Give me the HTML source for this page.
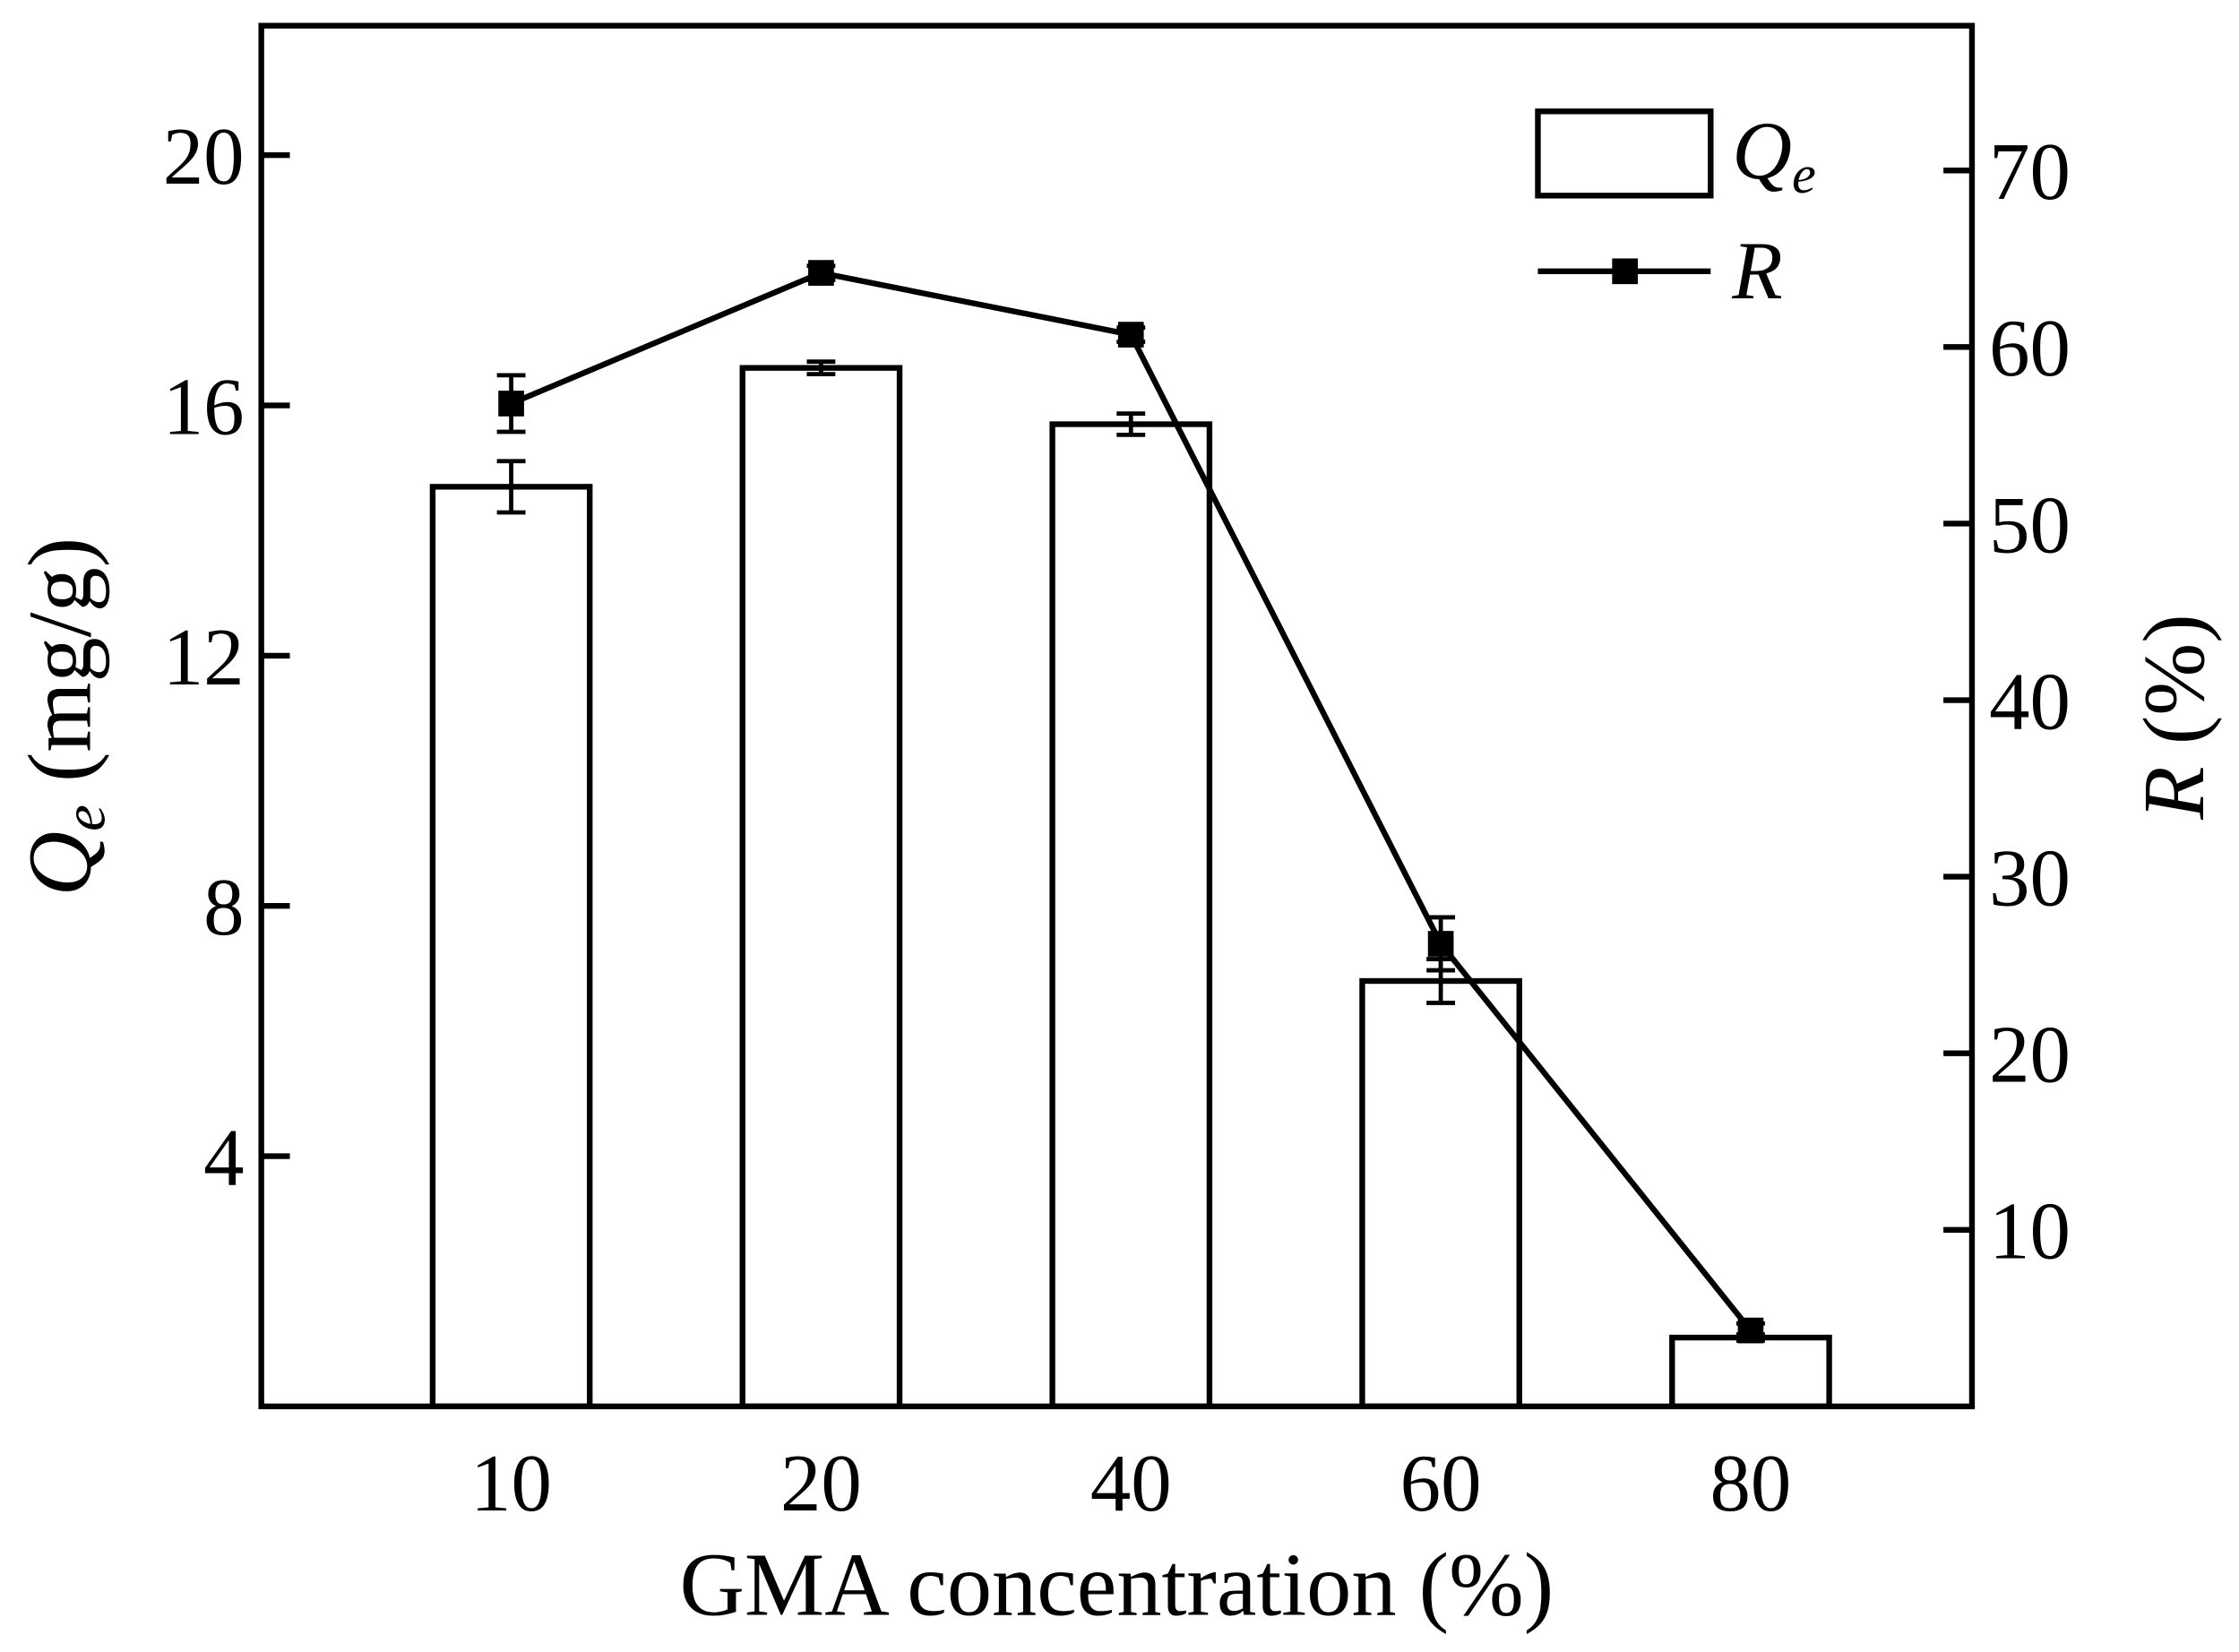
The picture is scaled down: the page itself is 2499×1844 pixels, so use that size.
<!DOCTYPE html>
<html><head><meta charset="utf-8"><style>
html,body{margin:0;padding:0;background:#fff;}
svg{display:block;}
text{font-family:"Liberation Serif",serif;fill:#000;}
</style></head><body>
<svg id="chart" width="2499" height="1844" viewBox="0 0 2499 1844" xmlns="http://www.w3.org/2000/svg">
<g id="root" transform="scale(1.59375)"></g>
</svg>
<script>
const categories = ["10","20","40","60","80"];
const qeValues = [14.7, 16.6, 15.7, 6.8, 1.1];
const qeErrors = [0.41, 0.1, 0.17, 0.35, 0.05];
const rValues = [56.8, 64.2, 60.7, 26.2, 4.3];
const rErrors = [1.6, 0.4, 0.4, 1.5, 0.4];
const leftTicks = [4, 8, 12, 16, 20];
const rightTicks = [10, 20, 30, 40, 50, 60, 70];

const NS = "http://www.w3.org/2000/svg";
const root = document.getElementById('root');
const L = 183, R = 1381, T = 18, B = 985;
const yLeftMax = 22.07, yRightMax = 78.2;
const yL = v => B - v / yLeftMax * (B - T);
const yR = v => B - v / yRightMax * (B - T);
const xC = i => 358 + 217 * i;
const barW = 110;
const SW = 4;
const EW = 3;

function mk(tag, attrs, parent) {
  const e = document.createElementNS(NS, tag);
  for (const k in attrs) e.setAttribute(k, attrs[k]);
  (parent || root).appendChild(e);
  return e;
}

categories.forEach((c, i) => {
  const g = mk('g', {});
  
  
  const top = yL(qeValues[i]);
  mk('rect', {x: xC(i) - barW/2, y: top, width: barW, height: B - top, fill: '#fff', stroke: '#000', 'stroke-width': SW}, g);
  const e1 = yL(qeValues[i] + qeErrors[i]), e2 = yL(qeValues[i] - qeErrors[i]);
  mk('line', {x1: xC(i), x2: xC(i), y1: e1, y2: e2, stroke: '#000', 'stroke-width': EW}, g);
  mk('line', {x1: xC(i) - 10, x2: xC(i) + 10, y1: e1, y2: e1, stroke: '#000', 'stroke-width': EW}, g);
  mk('line', {x1: xC(i) - 10, x2: xC(i) + 10, y1: e2, y2: e2, stroke: '#000', 'stroke-width': EW}, g);
});

const pts = rValues.map((v, i) => xC(i) + ',' + yR(v)).join(' ');
const rl = mk('polyline', {points: pts, fill: 'none', stroke: '#000', 'stroke-width': SW});


rValues.forEach((v, i) => {
  const g = mk('g', {});
  
  
  const e1 = yR(v + rErrors[i]), e2 = yR(v - rErrors[i]);
  mk('line', {x1: xC(i), x2: xC(i), y1: e1, y2: e2, stroke: '#000', 'stroke-width': EW}, g);
  mk('line', {x1: xC(i) - 10, x2: xC(i) + 10, y1: e1, y2: e1, stroke: '#000', 'stroke-width': EW}, g);
  mk('line', {x1: xC(i) - 10, x2: xC(i) + 10, y1: e2, y2: e2, stroke: '#000', 'stroke-width': EW}, g);
  mk('rect', {x: xC(i) - 9, y: yR(v) - 9, width: 18, height: 18, fill: '#000'}, g);
});

const fr = mk('rect', {x: L, y: T, width: R - L, height: B - T, fill: 'none', stroke: '#000', 'stroke-width': SW});



leftTicks.forEach(v => {
  mk('line', {x1: L, x2: L + 20, y1: yL(v), y2: yL(v), stroke: '#000', 'stroke-width': SW});
  const t = mk('text', {x: L - 12, y: yL(v) + 20, 'font-size': 57, 'text-anchor': 'end'});
  
  
  t.textContent = v;
});
rightTicks.forEach(v => {
  mk('line', {x1: R, x2: R - 20, y1: yR(v), y2: yR(v), stroke: '#000', 'stroke-width': SW});
  const t = mk('text', {x: R + 12, y: yR(v) + 20, 'font-size': 57, 'text-anchor': 'start'});
  
  
  t.textContent = v;
});
categories.forEach((c, i) => {
  const t = mk('text', {x: xC(i), y: 1058, 'font-size': 57, 'text-anchor': 'middle'});
  
  
  t.textContent = c;
});
</script>
<script>
(function(){
const root = document.getElementById('root');
root.insertAdjacentHTML('beforeend', `
<text x="782" y="1131" font-size="63" text-anchor="middle">GMA concentration (%)</text>
<text transform="translate(63,502) rotate(-90)" font-size="63" text-anchor="middle"><tspan font-style="italic">Q</tspan><tspan font-style="italic" font-size="42" dy="10">e</tspan><tspan dy="-10"> (mg/g)</tspan></text>
<text transform="translate(1543,502) rotate(-90)" font-size="61" text-anchor="middle"><tspan font-style="italic">R</tspan> (%)</text>
<g>
<rect x="1077" y="78" width="121" height="59" fill="#fff" stroke="#000" stroke-width="4"/>
<text x="1213" y="125" font-size="58" font-style="italic">Q<tspan font-size="38" dy="10">e</tspan></text>
<line x1="1077" x2="1198" y1="190" y2="190" stroke="#000" stroke-width="4"/>
<rect x="1129" y="181" width="18" height="18" fill="#000"/>
<text x="1213" y="209" font-size="58" font-style="italic">R</text>
</g>`);
})();
</script>
</body></html>
